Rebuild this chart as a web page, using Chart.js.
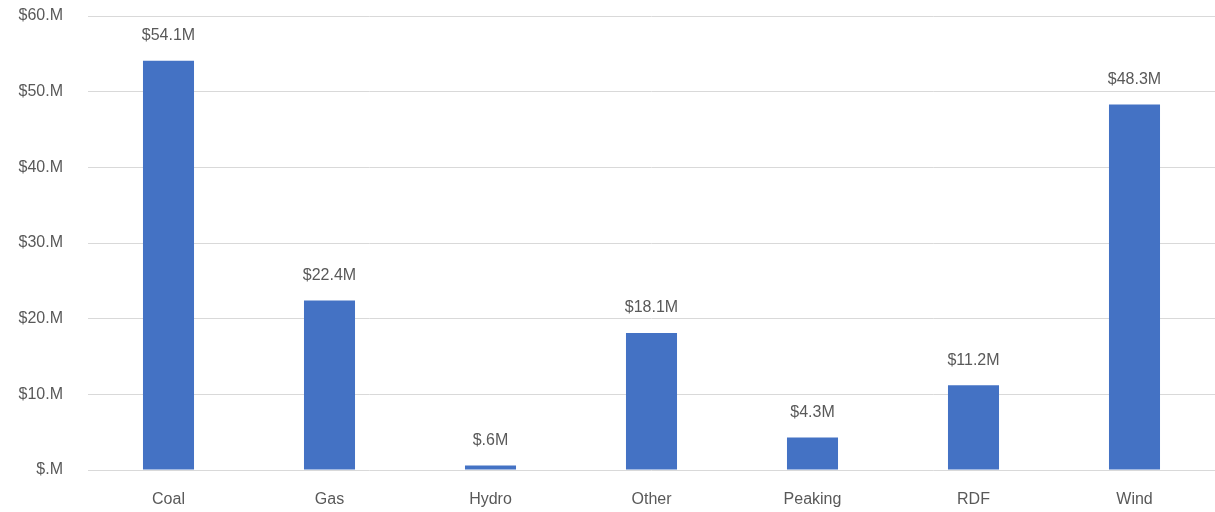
<!DOCTYPE html>
<html>
<head>
<meta charset="utf-8">
<script src="https://cdn.jsdelivr.net/npm/chart.js@4"></script>
<style>
  html, body { margin: 0; padding: 0; background: #fff; }
  #wrap { width: 1215px; height: 512px; }
</style>
</head>
<body>
<div id="wrap"><canvas id="myChart" width="1215" height="512"></canvas></div>
<script>
// chart data
const categories = ['Coal', 'Gas', 'Hydro', 'Other', 'Peaking', 'RDF', 'Wind'];
const spendMillions = [54.1, 22.4, 0.6, 18.1, 4.3, 11.2, 48.3];
const yTicks = [0, 10, 20, 30, 40, 50, 60];

const textColor = '#595959';
const fontFamily = "'Liberation Sans', Arial, sans-serif";

// excel style "$#.#M" - drops the leading zero
function moneyLabel(v) {
    let s = v.toFixed(1);
    if (s.startsWith('0')) s = s.slice(1);
    return '$' + s + 'M';
}

const barLabels = {
    id: 'barLabels',
    afterDatasetsDraw(chart) {
        const ctx = chart.ctx;
        const meta = chart.getDatasetMeta(0);
        ctx.save();
        ctx.font = '16px ' + fontFamily;
        ctx.fillStyle = textColor;
        ctx.textAlign = 'center';
        ctx.textBaseline = 'middle';
        meta.data.forEach((bar, i) => {
            ctx.fillText(moneyLabel(spendMillions[i]), bar.x, bar.y - 25);
        });
        ctx.restore();
    }
};

const ctx = document.getElementById('myChart');
const myChart = new Chart(ctx, {
    type: 'bar',
    data: {
        labels: categories,
        datasets: [{
            label: 'Spend',
            data: spendMillions,
            backgroundColor: '#4472C4',
            categoryPercentage: 1,
            barPercentage: 0.317
        }]
    },
    options: {
        responsive: false,
        animation: false,
        layout: { padding: { top: 16, right: 0, left: 0, bottom: 0 } },
        plugins: {
            legend: { display: false },
            tooltip: { enabled: false }
        },
        scales: {
            y: {
                min: 0,
                max: 60,
                afterBuildTicks: (scale) => {
                    scale.ticks = yTicks.map(v => ({ value: v }));
                },
                afterFit: (scale) => {
                    scale.width = 88;
                    scale.paddingTop = 0;
                    scale.paddingBottom = 0;
                },
                ticks: {
                    padding: 25,
                    color: textColor,
                    font: { family: fontFamily, size: 16 },
                    callback: (v) => '$' + (v === 0 ? '' : v) + '.M'
                },
                grid: {
                    color: '#D9D9D9',
                    lineWidth: 1,
                    drawTicks: false
                },
                border: { display: false }
            },
            x: {
                afterFit: (scale) => { scale.height = 42; },
                ticks: {
                    padding: 12,
                    color: textColor,
                    font: { family: fontFamily, size: 16 }
                },
                grid: { display: false },
                border: { display: false }
            }
        }
    },
    plugins: [barLabels]
});
</script>
</body>
</html>
